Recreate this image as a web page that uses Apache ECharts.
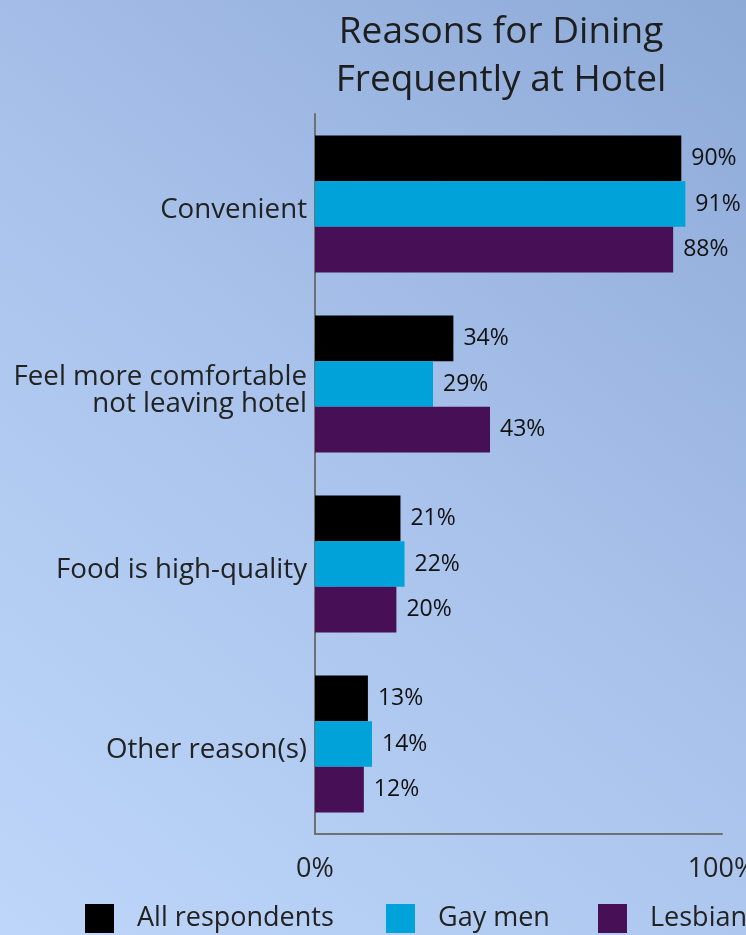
<!DOCTYPE html>
<html>
<head>
<meta charset="utf-8">
<script src="https://cdn.jsdelivr.net/npm/echarts@6/dist/echarts.min.js"></script>
<style>
  html, body { margin: 0; padding: 0; }
  #chart { width: 746px; height: 935px; }
</style>
</head>
<body>
<div id="chart"></div>
<script>
// Survey answers: why guests dine frequently at the hotel
const categories = ['Convenient', 'Feel more comfortable\nnot leaving hotel', 'Food is high-quality', 'Other reason(s)'];
const seriesNames = ['All respondents', 'Gay men', 'Lesbian'];
const allRespondents = [90, 34, 21, 13];
const gayMen = [91, 29, 22, 14];
const lesbian = [88, 43, 20, 12];
const colors = ['#000000', '#00a3d9', '#460f56'];

const FONT = '"Open Sans", sans-serif';
const chart = echarts.init(document.getElementById('chart'));

function barSeries(name, data, color) {
  return {
    name: name,
    type: 'bar',
    data: data,
    barGap: '0%',
    barCategoryGap: '24%',
    itemStyle: { color: color },
    label: {
      show: true,
      position: 'right',
      distance: 10,
      formatter: '{c}%',
      fontFamily: FONT,
      fontSize: 23,
      color: '#111'
    }
  };
}

function legendAt(name, left) {
  return {
    data: [name],
    left: left,
    top: 904,
    icon: 'rect',
    itemWidth: 29,
    itemHeight: 29,
    itemGap: 0,
    textStyle: { fontFamily: FONT, fontSize: 27, color: '#222', padding: [0, 0, 0, 18] },
    padding: 0,
    selectedMode: false
  };
}

// Category labels sit a little below the band centre: a thin empty
// first line pushes the text block down.
function categoryLabel(value) {
  return '{sp| }\n' + value.split('\n').map(function (line) { return '{t|' + line + '}'; }).join('\n');
}

chart.setOption({
  backgroundColor: new echarts.graphic.LinearGradient(0, 1, 1, 0, [
    { offset: 0, color: '#bed6f9' },
    { offset: 0.5, color: '#a9c3ec' },
    { offset: 1, color: '#8da9d6' }
  ]),
  title: {
    text: 'Reasons for Dining\nFrequently at Hotel',
    left: 496,
    textAlign: 'center',
    top: 3,
    textStyle: { fontFamily: FONT, fontSize: 37, fontWeight: 'normal', color: '#1e1e1e', lineHeight: 48 }
  },
  legend: [
    legendAt(seriesNames[0], 85),
    legendAt(seriesNames[1], 386),
    legendAt(seriesNames[2], 598)
  ],
  grid: { left: 315, right: 24, top: 114, bottom: 101, containLabel: false, outerBoundsMode: 'none' },
  xAxis: {
    type: 'value',
    min: 0,
    max: 100,
    interval: 100,
    splitLine: { show: false },
    axisTick: { show: false },
    axisLine: { show: true, lineStyle: { color: '#707070', width: 2 } },
    axisLabel: { formatter: '{value}%', fontFamily: FONT, fontSize: 27, color: '#222', margin: 22 }
  },
  yAxis: {
    type: 'category',
    data: categories,
    inverse: true,
    axisTick: { show: false },
    axisLine: { show: true, lineStyle: { color: '#707070', width: 2 } },
    axisLabel: {
      margin: 8,
      align: 'right',
      formatter: categoryLabel,
      rich: {
        sp: { fontSize: 2, lineHeight: 13 },
        t: { fontFamily: FONT, fontSize: 27.7, color: '#222', lineHeight: 27, align: 'right' }
      }
    }
  },
  series: [
    barSeries(seriesNames[0], allRespondents, colors[0]),
    barSeries(seriesNames[1], gayMen, colors[1]),
    barSeries(seriesNames[2], lesbian, colors[2])
  ]
});
</script>
</body>
</html>
